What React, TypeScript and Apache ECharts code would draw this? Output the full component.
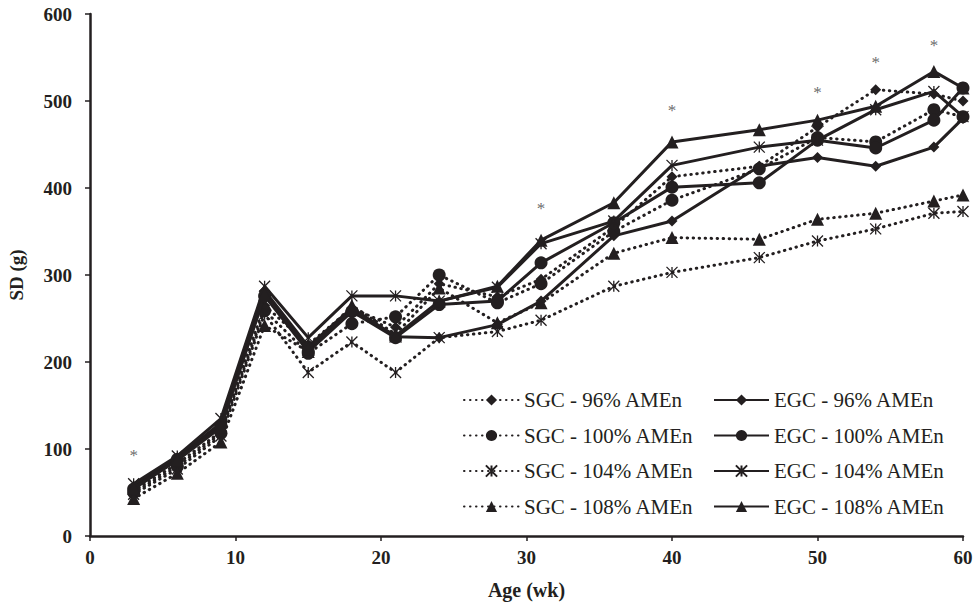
import React, { useEffect, useRef } from "react";
import * as echarts from "echarts";

const ages = [3, 6, 9, 12, 15, 18, 21, 24, 28, 31, 36, 40, 46, 50, 54, 58, 60];

const sgc96 = [52, 83, 120, 265, 220, 262, 240, 290, 275, 295, 355, 413, 425, 470, 513, 508, 500];
const sgc100 = [50, 80, 118, 259, 210, 244, 252, 300, 268, 290, 350, 386, 422, 458, 453, 490, 482];
const sgc104 = [48, 77, 115, 255, 188, 223, 188, 228, 235, 248, 287, 303, 320, 339, 353, 371, 373];
const sgc108 = [43, 72, 108, 242, 212, 265, 232, 285, 245, 268, 325, 343, 341, 364, 371, 385, 392];
const egc96 = [57, 90, 130, 282, 218, 262, 229, 228, 243, 270, 345, 362, 425, 435, 425, 447, 480];
const egc100 = [54, 88, 127, 276, 212, 258, 228, 266, 270, 314, 360, 401, 406, 455, 446, 478, 515];
const egc104 = [60, 92, 135, 287, 228, 276, 276, 270, 286, 336, 362, 426, 447, 455, 490, 511, 482];
const egc108 = [55, 87, 125, 278, 215, 260, 230, 270, 287, 340, 383, 453, 467, 478, 494, 534, 515];

const sigAges = [3, 31, 40, 50, 54, 58];
const sigY = [93, 377, 489, 510, 544, 564];

const sgcNames = ["SGC - 96% AMEn", "SGC - 100% AMEn", "SGC - 104% AMEn", "SGC - 108% AMEn"];
const egcNames = ["EGC - 96% AMEn", "EGC - 100% AMEn", "EGC - 104% AMEn", "EGC - 108% AMEn"];

const INK = "#231f20";
const FONT = "'Liberation Serif', 'Times New Roman', serif";
const STAR = "path://M0,0L10,10M10,0L0,10M5,0L5,10";

export default function App() {
  const ref = useRef<HTMLDivElement>(null);
  useEffect(() => {
    if (!ref.current) return;
    const chart = echarts.init(ref.current, undefined, { renderer: "svg" });
    const symbols = ["diamond", "circle", STAR, "triangle"];
    const sizes = [11, 13, 11, 13];
    const mk = (name: string, vals: number[], i: number, dotted: boolean) => {
      const isStar = i === 2;
      return {
        name,
        type: "line",
        data: ages.map((a, k) => [a, vals[k]]),
        symbol: symbols[i],
        symbolSize: sizes[i],
        showSymbol: true,
        lineStyle: dotted
          ? { color: INK, width: 3, type: [0.5, 5.5], cap: "round" }
          : { color: INK, width: 3, type: "solid" },
        itemStyle: isStar
          ? { color: INK, borderColor: INK, borderWidth: 1.3 }
          : { color: INK, borderWidth: 0 },
        z: dotted ? 2 : 3,
      };
    };
    const series: any[] = [];
    [sgc96, sgc100, sgc104, sgc108].forEach((v, i) => series.push(mk(sgcNames[i], v, i, true)));
    [egc96, egc100, egc104, egc108].forEach((v, i) => series.push(mk(egcNames[i], v, i, false)));
    series.push({
      name: "sig",
      type: "scatter",
      data: sigAges.map((a, k) => [a, sigY[k]]),
      symbolSize: 2,
      itemStyle: { color: "rgba(0,0,0,0)" },
      label: {
        show: true,
        position: "inside",
        formatter: "*",
        fontSize: 17,
        color: "#444444",
        fontFamily: FONT,
      },
      z: 5,
    });

    const legendBase = {
      orient: "vertical",
      top: 389,
      padding: 0,
      itemWidth: 55,
      itemHeight: 14,
      itemGap: 13.5,
      textStyle: { fontFamily: FONT, fontSize: 21, color: INK, lineHeight: 22, padding: [0, 0, 0, 0] },
    };

    chart.setOption({
      animation: false,
      backgroundColor: "#ffffff",
      grid: {
        left: 90,
        right: 13,
        top: 14,
        bottom: 72,
        containLabel: false,
        outerBoundsMode: "none",
      },
      legend: [
        { ...legendBase, left: 463, data: sgcNames },
        { ...legendBase, left: 713, data: egcNames },
      ],
      xAxis: {
        type: "value",
        min: 0,
        max: 60,
        interval: 10,
        name: "Age (wk)",
        nameLocation: "middle",
        nameGap: 44,
        nameTextStyle: { fontFamily: FONT, fontSize: 20, fontWeight: "bold", color: INK },
        axisLine: { lineStyle: { color: INK, width: 2.5 } },
        axisTick: { show: true, length: 5, lineStyle: { color: INK, width: 1.5 } },
        axisLabel: { fontFamily: FONT, fontSize: 19, fontWeight: "bold", color: INK, margin: 12 },
        splitLine: { show: false },
      },
      yAxis: {
        type: "value",
        min: 0,
        max: 600,
        interval: 100,
        name: "SD (g)",
        nameLocation: "middle",
        nameGap: 64,
        nameTextStyle: { fontFamily: FONT, fontSize: 19, fontWeight: "bold", color: INK },
        axisLine: { show: true, lineStyle: { color: INK, width: 2.5 } },
        axisTick: { show: true, length: 5, lineStyle: { color: INK, width: 1.5 } },
        axisLabel: { fontFamily: FONT, fontSize: 19, fontWeight: "bold", color: INK, margin: 18 },
        splitLine: { show: false },
      },
      series,
    });
    return () => chart.dispose();
  }, []);
  return (
    <div
      ref={ref}
      style={{ position: "absolute", left: 0, top: 0, width: 976, height: 608 }}
    />
  );
}
